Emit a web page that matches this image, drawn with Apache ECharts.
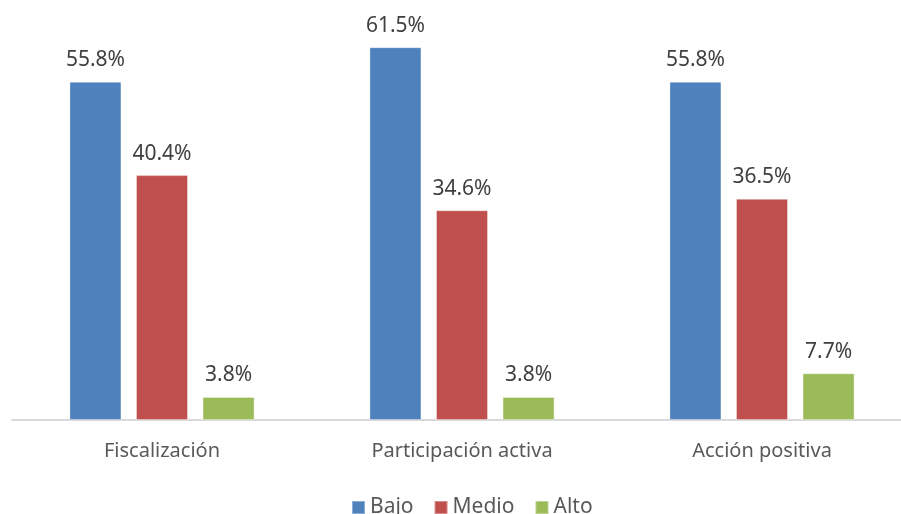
<!DOCTYPE html>
<html>
<head>
<meta charset="utf-8">
<script src="https://cdn.jsdelivr.net/npm/echarts@6/dist/echarts.min.js"></script>
<style>
  html, body { margin: 0; padding: 0; background: #fff; }
  #chart { width: 901px; height: 514px; }
</style>
</head>
<body>
<div id="chart"></div>
<script>
// datos (%)
const categorias = ['Fiscalización', 'Participación activa', 'Acción positiva'];
const bajo = [55.8, 61.5, 55.8];
const medio = [40.4, 34.6, 36.5];
const alto = [3.8, 3.8, 7.7];

const chart = echarts.init(document.getElementById('chart'));

const etiqueta = {
    show: true,
    position: 'top',
    distance: 11,
    color: '#404040',
    fontSize: 21,
    fontFamily: 'Noto Sans',
    formatter: p => p.value.toFixed(1) + '%'
};

function serie(nombre, datos, color) {
    return {
        name: nombre,
        type: 'bar',
        data: datos,
        barWidth: 52,
        barGap: '28%',
        itemStyle: { color: color, borderColor: 'rgba(255,255,255,0.35)', borderWidth: 1 },
        label: etiqueta
    };
}

chart.setOption({
    animation: false,
    textStyle: { fontFamily: 'Noto Sans' },
    grid: { left: 12, width: 900, top: 26, bottom: 94, outerBoundsMode: 'none' },
    legend: {
        top: 492,
        left: 346,
        itemWidth: 13,
        itemHeight: 13,
        itemGap: 20,
        icon: 'rect',
        textStyle: { fontSize: 21, color: '#595959', fontFamily: 'Noto Sans' },
        data: ['Bajo', 'Medio', 'Alto']
    },
    xAxis: {
        type: 'category',
        data: categorias,
        axisLine: { lineStyle: { color: '#D9D9D9', width: 2 } },
        axisTick: { show: false },
        axisLabel: { color: '#595959', fontSize: 20, margin: 21, fontFamily: 'Noto Sans' }
    },
    yAxis: {
        type: 'value',
        min: 0,
        max: 65,
        show: false,
        splitLine: { show: false }
    },
    series: [
        serie('Bajo', bajo, '#4F81BD'),
        serie('Medio', medio, '#C0504D'),
        serie('Alto', alto, '#9BBB59')
    ]
});
</script>
</body>
</html>
